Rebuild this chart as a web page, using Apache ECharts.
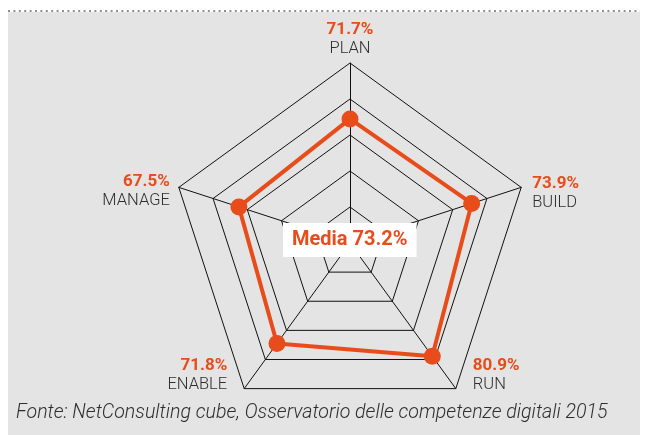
<!DOCTYPE html>
<html>
<head>
<meta charset="utf-8">
<script src="https://cdn.jsdelivr.net/npm/echarts@6/dist/echarts.min.js"></script>
<style>
html,body{margin:0;padding:0;background:#fff;}
#chart{width:647px;height:435px;}
</style>
</head>
<body>
<div id="chart"></div>
<script>
// ---- data ----
const categories = ['PLAN', 'MANAGE', 'ENABLE', 'RUN', 'BUILD'];
const values = [71.7, 67.5, 71.8, 80.9, 73.9];
const axisMax = 104;
const sourceText = 'Fonte: NetConsulting cube, Osservatorio delle competenze digitali 2015';
const mediaLabel = 'Media';

// ---- styles ----
const ORANGE = '#e84c1b';
const FONT = 'Roboto, "Noto Sans", sans-serif';
const nameLayout = [
  { nameGap: 0, nameTextStyle: { align: 'center', verticalAlign: 'bottom', padding: [0, 0, 5, 0] } },
  { nameGap: 0, nameTextStyle: { align: 'right', verticalAlign: 'middle', padding: [8, 9, 0, 0] } },
  { nameGap: 0, nameTextStyle: { align: 'right', verticalAlign: 'middle', padding: [0, 17, 27, 0] } },
  { nameGap: 0, nameTextStyle: { align: 'left', verticalAlign: 'middle', padding: [0, 0, 27, 17] } },
  { nameGap: 0, nameTextStyle: { align: 'left', verticalAlign: 'middle', padding: [11, 0, 0, 11] } }
];

const indicators = categories.map((c, i) => Object.assign({ name: c, max: axisMax, min: 0 }, nameLayout[i]));
const mean = values.reduce((a, b) => a + b, 0) / values.length;

const chart = echarts.init(document.getElementById('chart'), null, { renderer: 'canvas' });
chart.setOption({
  animation: false,
  backgroundColor: '#ffffff',
  graphic: [
    { type: 'rect', z: -10, shape: { x: 8, y: 12, width: 632, height: 423 }, style: { fill: '#e3e4e3' } },
    { type: 'line', z: -9, shape: { x1: 8, y1: 11, x2: 640, y2: 11 }, style: { stroke: '#8f8f8f', lineWidth: 2, lineDash: [2, 3.4] } }
  ],
  title: [
    {
      text: mediaLabel + ' ' + mean.toFixed(1) + '%',
      left: 283, top: 223,
      backgroundColor: '#ffffff',
      padding: [7, 9, 7, 9],
      textStyle: { fontFamily: FONT, fontWeight: 'bold', fontSize: 20, color: ORANGE, lineHeight: 20 }
    },
    {
      text: sourceText,
      left: 16, top: 402,
      padding: 0,
      textStyle: { fontFamily: FONT, fontStyle: 'italic', fontWeight: 300, fontSize: 19.6, color: '#2e2e2e', lineHeight: 22 }
    }
  ],
  radar: {
    center: [350, 243],
    radius: 180,
    startAngle: 90,
    splitNumber: 5,
    shape: 'polygon',
    indicator: indicators,
    axisName: {
      formatter: function (name) {
        const i = categories.indexOf(name);
        return '{v|' + values[i].toFixed(1) + '%}\n{n|' + name + '}';
      },
      rich: {
        v: { fontFamily: FONT, fontWeight: 'bold', fontSize: 17, color: ORANGE, lineHeight: 19 },
        n: { fontFamily: FONT, fontWeight: 300, fontSize: 16.5, color: '#2e2e2e', lineHeight: 19 }
      }
    },
    axisLine: { lineStyle: { color: '#111', width: 1 } },
    splitLine: { lineStyle: { color: '#111', width: 1 } },
    splitArea: { show: false },
    axisTick: { show: false },
    axisLabel: { show: false }
  },
  series: [{
    type: 'radar',
    symbol: 'circle',
    symbolSize: 17,
    lineStyle: { color: ORANGE, width: 4 },
    itemStyle: { color: ORANGE },
    data: [{ value: values, name: 'Valore' }]
  }]
});
</script>
</body>
</html>
